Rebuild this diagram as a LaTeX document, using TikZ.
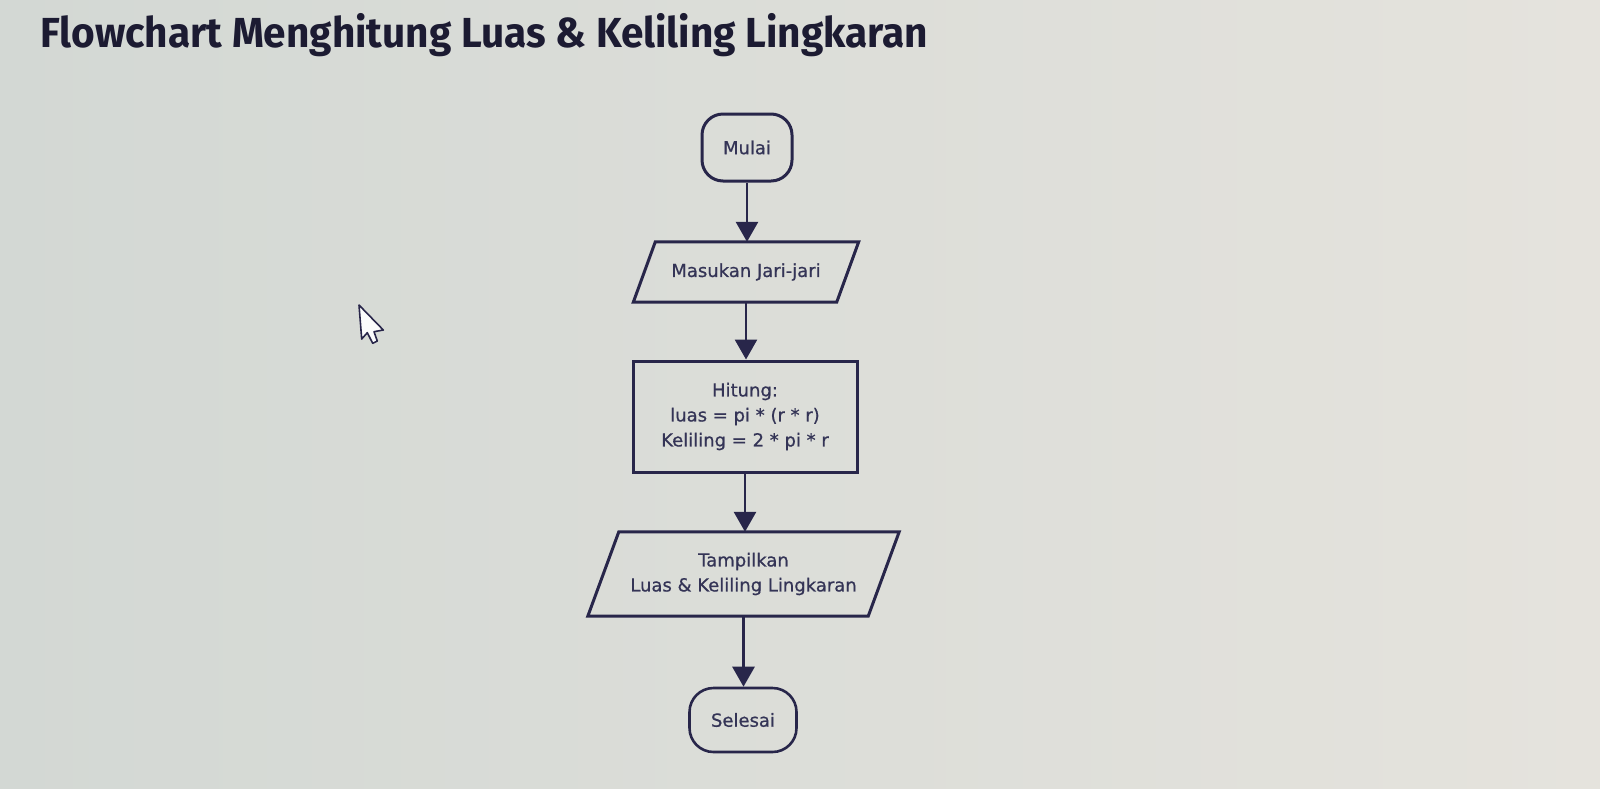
\documentclass[tikz,border=0pt]{standalone}
\usepackage{fontspec}
\setmainfont{DejaVu Sans}
\newfontfamily\boxfont[FakeBold=0.7]{DejaVu Sans}
\newfontfamily\titlefont{Fira Sans}
\usetikzlibrary{arrows.meta}
\definecolor{bgL}{RGB}{211,216,212}
\definecolor{bgR}{RGB}{229,227,221}
\definecolor{lineC}{RGB}{40,38,74}
\definecolor{textC}{RGB}{52,52,86}
\definecolor{titleC}{RGB}{28,27,50}
\begin{document}
\begin{tikzpicture}[x=1pt,y=-1pt,
  nodefont/.style={font=\boxfont\fontsize{18}{25}\selectfont, text=textC, align=center},
  terminal/.style={nodefont, draw=lineC, line width=3pt, rectangle, rounded corners=21pt, inner sep=0pt},
  procbox/.style={nodefont, draw=lineC, line width=3pt, rectangle, inner sep=0pt},
  iobox/.style={nodefont, rectangle, inner sep=0pt},
  ioframe/.style={draw=lineC, line width=3pt, line join=miter},
  flow/.style={draw=lineC, line width=2.8pt, -{Triangle[width=22pt,length=20pt]}},
  cursorstyle/.style={draw=lineC, fill=white!92!bgL, line width=1.6pt, line join=round}
]
\useasboundingbox (0,0) rectangle (1600,788);
\shade[left color=bgL, right color=bgR] (0,0) rectangle (1600,788);

% title
\node[anchor=base west, inner sep=0pt, text=titleC] (title) at (40,47)
  {\resizebox{888pt}{\height}{\titlefont\bfseries\fontsize{42}{50}\selectfont Flowchart Menghitung Luas \& Keliling Lingkaran}};

% nodes
\node[terminal, minimum width=90pt, minimum height=67pt] (mulai) at (747,147.5) {Mulai};
\node[iobox, minimum width=203pt, minimum height=60pt] (input) at (746,272) {Masukan Jari-jari};
\node[procbox, minimum width=224pt, minimum height=111pt] (hitung) at (745,416.5)
  {Hitung:\\ luas = pi * (r * r)\\ Keliling = 2 * pi * r};
\node[iobox, minimum width=280pt, minimum height=84pt] (output) at (743.5,574)
  {Tampilkan\\ Luas \& Keliling Lingkaran};
\node[terminal, line width=2.6pt, rounded corners=24pt, minimum width=107pt, minimum height=64pt] (selesai) at (743,720) {Selesai};

% parallelogram frames
\draw[ioframe] ([xshift=-11pt]input.south west) -- ([xshift=-11pt]input.south east)
  -- ([xshift=11pt]input.north east) -- ([xshift=11pt]input.north west) -- cycle;
\draw[ioframe] ([xshift=-15.5pt]output.south west) -- ([xshift=-15.5pt]output.south east)
  -- ([xshift=15.5pt]output.north east) -- ([xshift=15.5pt]output.north west) -- cycle;

% connectors
\draw[flow] (mulai.south) -- (mulai.south |- input.north);
\draw[flow] (input.south) -- (input.south |- hitung.north);
\draw[flow] (hitung.south) -- (hitung.south |- output.north);
\draw[flow] (output.south) -- (output.south |- selesai.north);

% mouse cursor
\draw[cursorstyle] (359,305) -- (361.7,339) -- (367.3,332.7) -- (372.7,343.3)
  -- (377.3,341) -- (374,331.7) -- (383.3,330) -- cycle;
\end{tikzpicture}
\end{document}
